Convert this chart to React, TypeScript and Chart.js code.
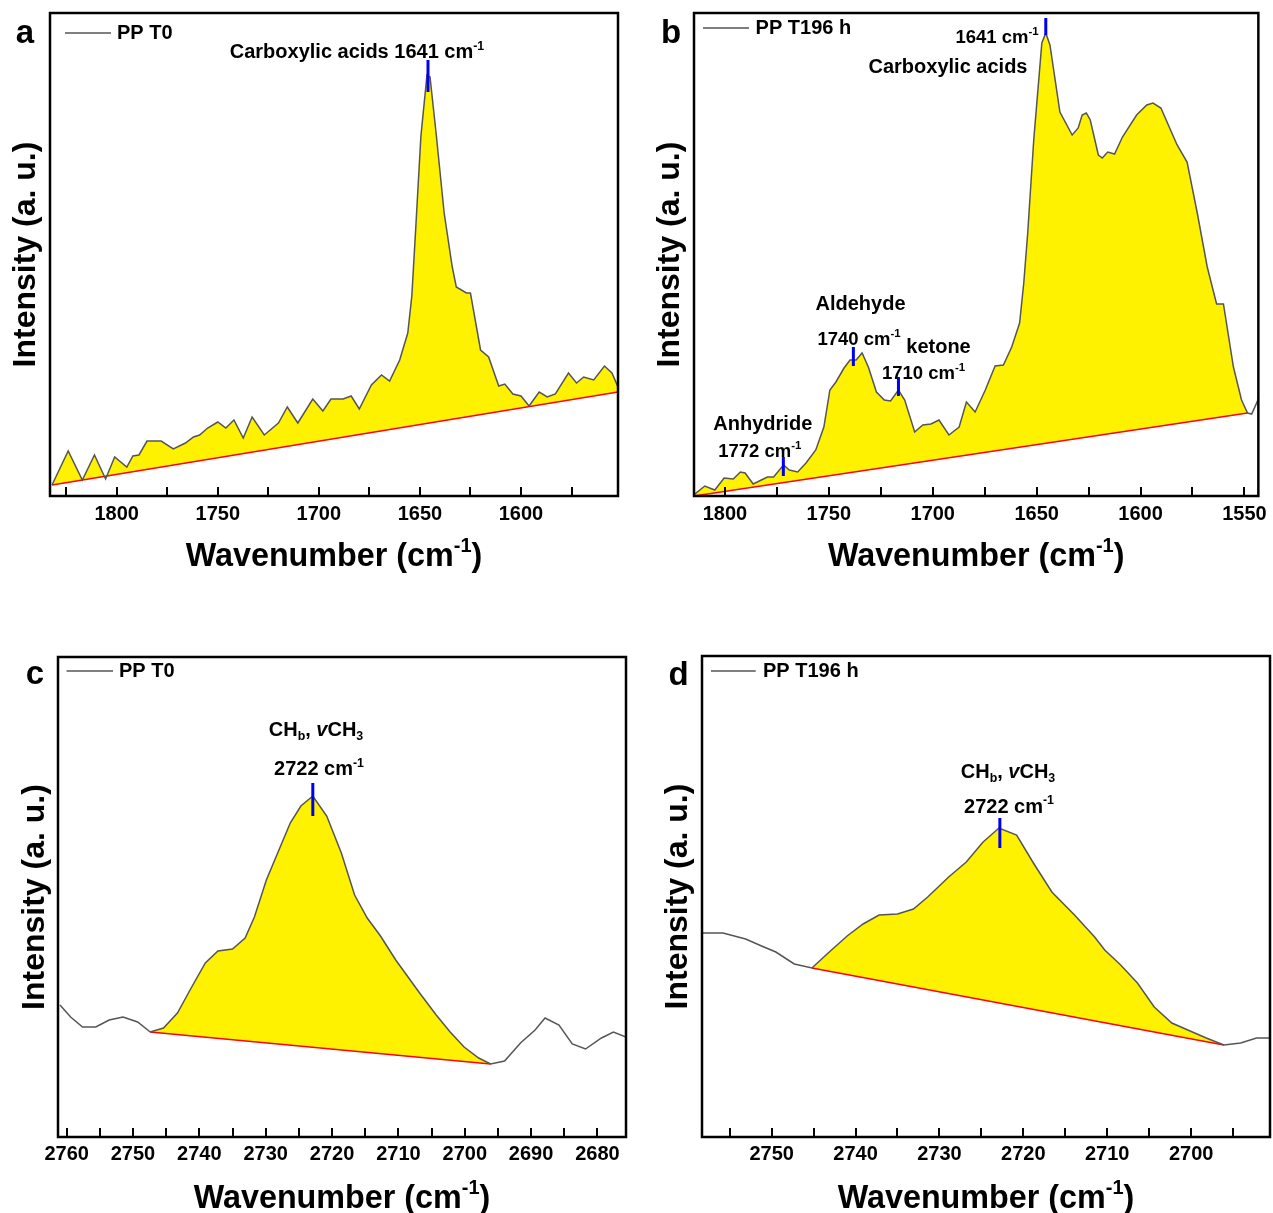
import React, { useEffect, useRef } from 'react';
import { Chart, registerables } from 'chart.js';

Chart.register(...registerables);

const FONT = '"Liberation Sans", Arial, Helvetica, sans-serif';

// ---------- Panel a : PP T0, 1830-1550 cm-1 ----------
const waveA = [1832, 1824, 1817, 1811, 1805.5, 1801, 1795, 1792, 1789, 1785, 1778, 1772, 1766, 1762, 1759, 1755, 1750, 1746, 1742, 1737.4, 1733, 1727, 1720, 1715.6, 1710.4, 1703, 1698, 1694, 1688, 1684, 1680, 1674, 1669, 1665, 1660, 1656, 1654, 1652, 1649.5, 1646.5, 1645, 1642, 1638, 1634, 1632, 1627, 1625, 1620, 1616, 1611, 1608, 1604, 1600, 1596, 1591, 1587, 1583, 1576.5, 1572.5, 1569, 1564, 1558.7, 1555, 1552];
const intA = [11, 45, 16, 41, 17, 39, 29, 40, 41, 55, 55, 47, 53, 59, 61, 68, 74, 68, 76, 58, 79, 61, 73, 89, 73, 97, 85, 97, 97, 100, 87, 111, 121, 115, 136, 163, 200, 270, 360, 421, 419, 363, 283, 229, 209, 203, 203, 146, 139, 110, 112, 102, 100, 90, 104, 99, 102, 123, 113, 119, 116, 130, 123, 109];
const baseWaveA = [1832, 1552];
const baseIntA = [11, 104];
const peakWaveA = [1646];
const peakLowA = [404];
const peakHighA = [436];

// ---------- Panel b : PP T196 h, 1815-1545 cm-1 ----------
const waveB = [1815, 1809.7, 1804.9, 1800.4, 1796, 1792.6, 1790.3, 1786.4, 1782.5, 1779.6, 1776.6, 1771.8, 1769, 1765, 1761, 1756.3, 1752.4, 1749.5, 1746.6, 1742.7, 1739.8, 1736.9, 1734, 1731, 1727.1, 1723.3, 1720.3, 1716.5, 1713.5, 1708.7, 1704.8, 1700.9, 1697, 1692.2, 1687.3, 1683.8, 1679.6, 1674.7, 1670, 1666, 1662, 1658.2, 1656.2, 1654.3, 1651.4, 1647.5, 1645.6, 1643.6, 1638.8, 1632.9, 1630, 1628.1, 1626.1, 1624.2, 1620.3, 1618.4, 1615.8, 1612.5, 1608.7, 1601.9, 1597, 1594, 1590.2, 1582.4, 1577.6, 1572.7, 1567.9, 1563.4, 1560.1, 1555.3, 1551.4, 1548.5, 1546.5, 1543.3];
const intB = [1, 10, 6, 18, 17, 24, 23, 12, 16, 19, 19, 31, 26, 24, 33, 46, 69, 106, 114, 128, 136, 136, 143, 129, 104, 96, 95, 106, 96, 64, 71, 72, 76, 61, 69, 94, 84, 106, 130, 131, 149, 173, 213, 263, 356, 453, 463, 451, 384, 361, 368, 381, 383, 376, 341, 338, 344, 342, 359, 381, 391, 393, 388, 351, 334, 283, 229, 192, 192, 129, 96, 83, 82, 97];
const baseWaveB = [1815, 1548.5];
const baseIntB = [0, 83];
const peakWaveB = [1645.6, 1738.2, 1716.5, 1771.9];
const peakLowB = [461, 130, 100, 20];
const peakHighB = [478, 149, 119, 39];

// ---------- Panel c : PP T0, 2760-2676 cm-1 ----------
const waveC = [2761, 2759.4, 2757.6, 2755.6, 2753.6, 2751.5, 2749.3, 2747.4, 2745.4, 2743.3, 2741.4, 2739.1, 2737.2, 2735, 2733.1, 2731.7, 2729.9, 2726.3, 2724.7, 2722.9, 2720.8, 2718.6, 2716.6, 2714.7, 2712.7, 2710.4, 2706.8, 2704.3, 2702.2, 2700.1, 2697.9, 2696.1, 2694, 2691.6, 2689.4, 2687.9, 2685.8, 2683.8, 2681.8, 2679.4, 2677.6, 2675.7];
const intC = [132, 120, 110, 110, 117, 120, 115, 105, 109, 124, 147, 174, 186, 188, 199, 220, 257, 314, 331, 341, 321, 284, 242, 219, 201, 177, 144, 122, 105, 90, 79, 73, 76, 94, 107, 119, 112, 93, 88, 99, 105, 100];
const baseWaveC = [2747.4, 2696.1];
const baseIntC = [105, 73];
const peakWaveC = [2722.9];
const peakLowC = [321];
const peakHighC = [354];

// ---------- Panel d : PP T196 h, 2758-2690 cm-1 ----------
const waveD = [2758.2, 2755.8, 2753.1, 2751.2, 2749.5, 2747.3, 2745.2, 2743, 2741, 2739.1, 2737.2, 2735, 2733.1, 2731.4, 2728.9, 2726.8, 2724.8, 2722.9, 2720.8, 2718.8, 2716.6, 2713.9, 2711.5, 2710.3, 2708.4, 2706.4, 2704.4, 2702.3, 2700.4, 2698.2, 2696.1, 2694.1, 2692.2, 2690.6];
const intD = [204, 204, 198, 191, 185, 173, 169, 186, 201, 213, 222, 223, 228, 240, 260, 275, 295, 309, 302, 274, 245, 222, 200, 187, 172, 154, 130, 114, 107, 99, 92, 94, 99, 99];
const baseWaveD = [2745.2, 2696.1];
const baseIntD = [169, 92];
const peakWaveD = [2722.8];
const peakLowD = [289];
const peakHighD = [319];

const legendT0 = 'PP T0';
const legendT196 = 'PP T196 h';
const xTitle = [{ t: 'Wavenumber (cm' }, { t: '-1', sup: true }, { t: ')' }];
const yTitle = 'Intensity (a. u.)';

type Seg = { t: string; sup?: boolean; sub?: boolean; it?: boolean };
const cm = (n: string): Seg[] => [{ t: n + ' cm' }, { t: '-1', sup: true }];
const chLabel: Seg[] = [{ t: 'CH' }, { t: 'b', sub: true }, { t: ', ' }, { t: 'v', it: true }, { t: 'CH' }, { t: '3', sub: true }];

function drawRich(ctx: CanvasRenderingContext2D, segs: Seg[], cx: number, cy: number, size: number) {
  let w = 0;
  const parts = segs.map((s) => {
    const fs = s.sup || s.sub ? size * 0.62 : size;
    const font = `${s.it ? 'italic ' : ''}bold ${fs}px ${FONT}`;
    ctx.font = font;
    const mw = ctx.measureText(s.t).width;
    w += mw;
    return { s, font, mw };
  });
  let x = cx - w / 2;
  const base = cy + size * 0.36;
  ctx.textAlign = 'left';
  ctx.textBaseline = 'alphabetic';
  ctx.fillStyle = '#000';
  for (const p of parts) {
    ctx.font = p.font;
    const yb = p.s.sup ? base - size * 0.42 : p.s.sub ? base + size * 0.2 : base;
    ctx.fillText(p.s.t, x, yb);
    x += p.mw;
  }
}

type Note = { segs: Seg[]; x: number; y: number; size: number };

const panels = [
  {
    key: 'a', letter: 'a', left: 0, top: 0, width: 636, height: 590,
    area: { l: 50, t: 13, r: 618, b: 496 },
    xMin: 1552, xMax: 1833, step: 25, labelStep: 50, tickPad: 6, yTitlePad: 6.8, xTitleY: 554,
    wave: waveA, inten: intA, baseWave: baseWaveA, baseInt: baseIntA,
    peakWave: peakWaveA, peakLow: peakLowA, peakHigh: peakHighA,
    letterPos: { x: 25, y: 43 },
    legend: { text: legendT0, x1: 65, x2: 111, y: 33, tx: 117 },
    notes: [
      { segs: [{ t: 'Carboxylic acids 1641 cm' }, { t: '-1', sup: true }], x: 357, y: 51, size: 20 },
    ] as Note[],
  },
  {
    key: 'b', letter: 'b', left: 636, top: 0, width: 637, height: 590,
    area: { l: 58, t: 13, r: 624, b: 496 },
    xMin: 1543.3, xMax: 1814.9, step: 25, labelStep: 50, tickPad: 6, yTitlePad: 15, xTitleY: 554,
    wave: waveB, inten: intB, baseWave: baseWaveB, baseInt: baseIntB,
    peakWave: peakWaveB, peakLow: peakLowB, peakHigh: peakHighB,
    letterPos: { x: 35, y: 43 },
    legend: { text: legendT196, x1: 67, x2: 113, y: 28, tx: 119.6 },
    notes: [
      { segs: cm('1641'), x: 361, y: 36, size: 18.5 },
      { segs: [{ t: 'Carboxylic acids' }], x: 312, y: 66, size: 20 },
      { segs: [{ t: 'Aldehyde' }], x: 224.5, y: 303, size: 20 },
      { segs: cm('1740'), x: 223, y: 338, size: 18.5 },
      { segs: [{ t: 'ketone' }], x: 302.5, y: 346, size: 20 },
      { segs: cm('1710'), x: 287.6, y: 372, size: 18.5 },
      { segs: [{ t: 'Anhydride' }], x: 126.8, y: 422.5, size: 20 },
      { segs: cm('1772'), x: 123.8, y: 450, size: 18.5 },
    ] as Note[],
  },
  {
    key: 'c', letter: 'c', left: 0, top: 640, width: 636, height: 573,
    area: { l: 58, t: 17, r: 626, b: 497 },
    xMin: 2675.7, xMax: 2761.3, step: 5, labelStep: 10, tickPad: 5, yTitlePad: 15.8, xTitleY: 556,
    wave: waveC, inten: intC, baseWave: baseWaveC, baseInt: baseIntC,
    peakWave: peakWaveC, peakLow: peakLowC, peakHigh: peakHighC,
    letterPos: { x: 35, y: 43.5 },
    legend: { text: legendT0, x1: 66.6, x2: 113, y: 31, tx: 119 },
    notes: [
      { segs: chLabel, x: 316, y: 89, size: 20 },
      { segs: cm('2722'), x: 319, y: 128, size: 20 },
    ] as Note[],
  },
  {
    key: 'd', letter: 'd', left: 636, top: 640, width: 637, height: 573,
    area: { l: 66, t: 16, r: 634, b: 497 },
    xMin: 2690.6, xMax: 2758.3, step: 5, labelStep: 10, tickPad: 5, yTitlePad: 23.2, xTitleY: 556,
    wave: waveD, inten: intD, baseWave: baseWaveD, baseInt: baseIntD,
    peakWave: peakWaveD, peakLow: peakLowD, peakHigh: peakHighD,
    letterPos: { x: 42.5, y: 45 },
    legend: { text: legendT196, x1: 75, x2: 119.7, y: 31, tx: 127 },
    notes: [
      { segs: chLabel, x: 372, y: 130.5, size: 20 },
      { segs: cm('2722'), x: 373, y: 165.5, size: 20 },
    ] as Note[],
  },
];

type PanelCfg = (typeof panels)[number];

function buildConfig(p: PanelCfg): any {
  const curve = p.wave.map((w, i) => ({ x: w, y: p.inten[i] }));
  const base = p.baseWave.map((w, i) => ({ x: w, y: p.baseInt[i] }));
  const lo = Math.min(...p.baseWave) - 1e-6;
  const hi = Math.max(...p.baseWave) + 1e-6;
  const fillPts = curve.filter((pt) => pt.x >= lo && pt.x <= hi);
  const marks = p.peakWave.map((w, i) => ({
    label: 'peak' + i,
    data: [{ x: w, y: p.peakLow[i] }, { x: w, y: p.peakHigh[i] }],
    borderColor: '#0000f0',
    borderWidth: 3,
    pointRadius: 0,
    fill: false,
    order: -1,
  }));

  const decor = {
    id: 'decor' + p.key,
    afterDraw(chart: any) {
      const ctx: CanvasRenderingContext2D = chart.ctx;
      const { left, top, right, bottom } = chart.chartArea;
      const xs = chart.scales.x;
      ctx.save();
      // inward ticks
      ctx.strokeStyle = '#000';
      ctx.lineWidth = 2;
      ctx.beginPath();
      for (const t of xs.ticks) {
        const px = Math.round(xs.getPixelForValue(t.value));
        ctx.moveTo(px, bottom);
        ctx.lineTo(px, bottom - 9);
      }
      ctx.stroke();
      // frame
      ctx.lineWidth = 2.5;
      ctx.strokeRect(left, top, right - left, bottom - top);
      // legend
      ctx.strokeStyle = '#555';
      ctx.lineWidth = 1.5;
      ctx.beginPath();
      ctx.moveTo(p.legend.x1, p.legend.y);
      ctx.lineTo(p.legend.x2, p.legend.y);
      ctx.stroke();
      ctx.fillStyle = '#000';
      ctx.font = `bold 20px ${FONT}`;
      ctx.textAlign = 'left';
      ctx.textBaseline = 'middle';
      ctx.fillText(p.legend.text, p.legend.tx, p.legend.y);
      // panel letter
      ctx.font = `bold 33px ${FONT}`;
      ctx.textAlign = 'center';
      ctx.textBaseline = 'alphabetic';
      ctx.fillText(p.letter, p.letterPos.x, p.letterPos.y);
      // notes
      for (const n of p.notes) drawRich(ctx, n.segs, n.x, n.y, n.size);
      // x title
      drawRich(ctx, xTitle, (left + right) / 2, p.xTitleY, 32.3);
      ctx.restore();
    },
  };

  return {
    type: 'line',
    data: {
      datasets: [
        {
          label: p.legend.text,
          data: curve,
          borderColor: '#555555',
          borderWidth: 1.5,
          pointRadius: 0,
          tension: 0,
          fill: false,
          order: 0,
        },
        {
          label: 'baseline',
          data: base,
          borderColor: '#ff0000',
          borderWidth: 1.6,
          pointRadius: 0,
          fill: false,
          order: 1,
        },
        {
          label: 'area',
          data: fillPts,
          borderWidth: 0,
          borderColor: 'rgba(0,0,0,0)',
          backgroundColor: '#fff200',
          pointRadius: 0,
          tension: 0,
          fill: 1,
          order: 2,
        },
        ...marks,
      ],
    },
    options: {
      responsive: false,
      animation: false,
      devicePixelRatio: 1,
      events: [],
      layout: { padding: { left: 0, top: p.area.t, right: p.width - p.area.r, bottom: 0 } },
      plugins: {
        legend: { display: false },
        tooltip: { enabled: false },
        filler: { propagate: false },
      },
      scales: {
        x: {
          type: 'linear',
          reverse: true,
          min: p.xMin,
          max: p.xMax,
          grid: { display: false, drawTicks: false },
          border: { display: false },
          ticks: {
            stepSize: p.step,
            includeBounds: false,
            autoSkip: false,
            maxRotation: 0,
            minRotation: 0,
            padding: p.tickPad,
            color: '#000',
            font: { family: FONT, size: 20, weight: 'bold' },
            callback: (v: number) => (Math.round(v) % p.labelStep === 0 ? String(Math.round(v)) : ''),
          },
          afterFit: (s: any) => {
            s.height = p.height - p.area.b;
          },
        },
        y: {
          type: 'linear',
          min: 0,
          max: p.area.b - p.area.t,
          grid: { display: false, drawTicks: false },
          border: { display: false },
          ticks: { display: false },
          title: {
            display: true,
            text: yTitle,
            color: '#000',
            font: { family: FONT, size: 32, weight: 'bold' },
            padding: { top: p.yTitlePad, bottom: 0 },
          },
          afterFit: (s: any) => {
            s.width = p.area.l;
          },
        },
      },
    },
    plugins: [decor],
  };
}

function Panel({ p }: { p: PanelCfg }) {
  const ref = useRef<HTMLCanvasElement | null>(null);
  useEffect(() => {
    if (!ref.current) return;
    const chart = new Chart(ref.current, buildConfig(p));
    return () => chart.destroy();
  }, [p]);
  return (
    <canvas
      ref={ref}
      width={p.width}
      height={p.height}
      style={{ position: 'absolute', left: p.left, top: p.top, width: p.width, height: p.height }}
    />
  );
}

export default function App() {
  return (
    <div style={{ position: 'absolute', left: 0, top: 0, width: 1273, height: 1213, background: '#fff', overflow: 'hidden' }}>
      {panels.map((p) => (
        <Panel key={p.key} p={p} />
      ))}
    </div>
  );
}
